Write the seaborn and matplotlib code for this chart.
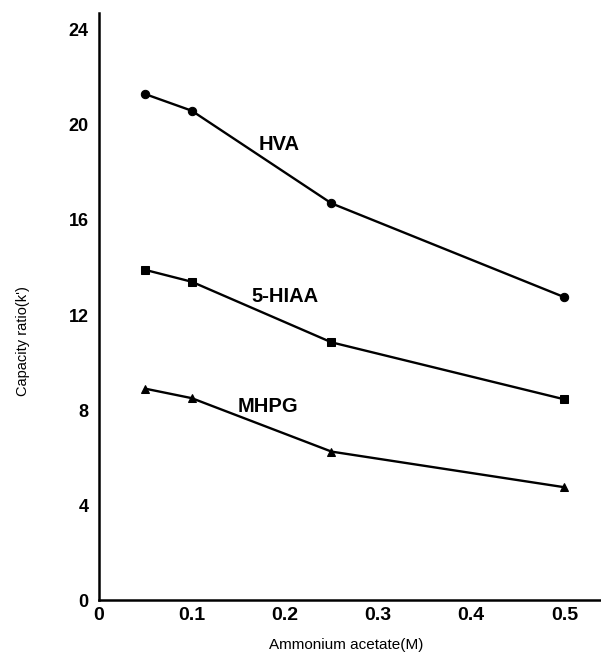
import matplotlib
matplotlib.use("Agg")
import matplotlib.pyplot as plt
import seaborn as sns
import pandas as pd

# Data
conc = [0.05, 0.1, 0.25, 0.5]
hva = [21.3, 20.6, 16.7, 12.75]
hiaa = [13.9, 13.4, 10.85, 8.45]
mhpg = [8.9, 8.5, 6.25, 4.75]
series_names = ["HVA", "5-HIAA", "MHPG"]
xticks = [0, 0.1, 0.2, 0.3, 0.4, 0.5]
xticklabels = ["0", "0.1", "0.2", "0.3", "0.4", "0.5"]
yticks = [0, 4, 8, 12, 16, 20, 24]

df = pd.DataFrame({
    "x": conc * 3,
    "y": hva + hiaa + mhpg,
    "s": [n for n in series_names for _ in conc],
})

sns.set_style("white")
plt.rcParams["font.family"] = ["Liberation Sans", "DejaVu Sans"]
plt.rcParams["text.color"] = "black"
plt.rcParams["axes.labelcolor"] = "black"

fig = plt.figure(figsize=(6.01, 6.66), dpi=100)
ax = fig.add_axes([0.164, 0.099, 0.834, 0.881])

sns.lineplot(data=df, x="x", y="y", hue="s", style="s",
             palette={n: "black" for n in series_names},
             markers={"HVA": "o", "5-HIAA": "s", "MHPG": "^"},
             dashes=False, markersize=6, linewidth=1.7,
             markeredgecolor="black", legend=False, ax=ax)

ax.set_xlim(0, 0.538)
ax.set_ylim(0, 24.7)
ax.set_xticks(xticks)
ax.set_xticklabels(xticklabels)
ax.set_yticks(yticks)
for lab in ax.get_yticklabels():
    lab.set_fontweight("bold")
    lab.set_fontsize(13)
for lab in ax.get_xticklabels():
    lab.set_fontweight("bold")
    lab.set_fontsize(14)
ax.tick_params(axis="x", direction="in", length=6, width=1.3, pad=5, colors="black")
ax.tick_params(axis="y", direction="out", length=6, width=1.3, pad=1, colors="black")
for side in ["top", "right"]:
    ax.spines[side].set_visible(False)
for side in ["left", "bottom"]:
    ax.spines[side].set_color("black")
    ax.spines[side].set_linewidth(1.8)

ax.set_xlabel("Ammonium acetate(M)", fontsize=11)
ax.set_ylabel("Capacity ratio(k')", fontsize=10.5)
ax.xaxis.set_label_coords(0.494, -0.065)
ax.yaxis.set_label_coords(-0.137, 0.441)

ax.text(0.194, 19.16, "HVA", fontsize=14.5, fontweight="bold", ha="center", va="center")
ax.text(0.200, 12.76, "5-HIAA", fontsize=14.5, fontweight="bold", ha="center", va="center")
ax.text(0.182, 8.13, "MHPG", fontsize=14.5, fontweight="bold", ha="center", va="center")

fig.savefig("out.png", dpi=100)
